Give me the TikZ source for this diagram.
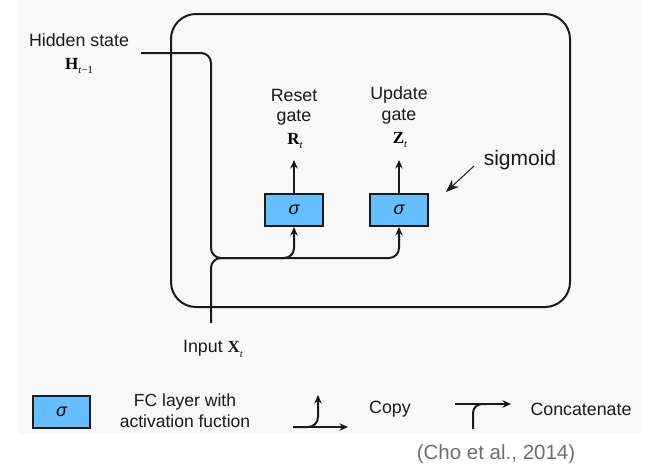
\documentclass[tikz,border=0pt]{standalone}
\usepackage{fontspec}
\setmainfont{Liberation Sans}
\newfontfamily\tms{Liberation Serif}
\usetikzlibrary{arrows.meta}
\definecolor{panel}{HTML}{F8F8F8}
\definecolor{gatefill}{HTML}{66BDFF}
\definecolor{citegray}{HTML}{6E6E6E}
\definecolor{ink}{HTML}{1A1A1A}
% bold serif symbol with a small subscript
\newcommand\symb[2]{{\tms\fontsize{17}{17}\selectfont\bfseries #1}\raisebox{-4.5pt}{\tms\fontsize{10.5}{11}\selectfont #2}}
\tikzset{
  txt/.style={font=\fontsize{17.8}{20.5}\selectfont, text=ink, inner sep=0pt, align=center},
  gatebox/.style={draw=ink, line width=2pt, fill=gatefill, minimum width=58pt,
    minimum height=32pt, inner sep=0pt, font=\fontsize{18}{20}\selectfont\itshape},
  wire/.style={draw=ink, line width=2pt, rounded corners=10pt},
  arr/.style={-{Stealth[length=8.5pt,width=7.5pt]}},
}
\begin{document}
\begin{tikzpicture}[x=1pt,y=-1pt]
\useasboundingbox (0,0) rectangle (650,464);
\fill[panel] (18,0) rectangle (641,434);

% GRU cell outline
\node[draw=ink, line width=2pt, rounded corners=25pt, minimum width=399pt,
  minimum height=293pt, inner sep=0pt] (cell) at (370.5,160.5) {};

% gates
\node[gatebox] (rbox) at (294,210) {σ};
\node[gatebox] (zbox) at (399,210) {σ};

% gate outputs
\node[txt] (rlab) at (294,107) {Reset\\gate};
\node[inner sep=0pt] (rt) at (295,141) {\symb{R}{\itshape t}};
\node[txt] (zlab) at (399,105.5) {Update\\gate};
\node[inner sep=0pt] (zt) at (400,140) {\symb{Z}{\itshape t}};
\coordinate (rtip) at (294,160);
\coordinate (ztip) at (399,160);
\draw[wire, arr] (rbox.north) -- (rtip);
\draw[wire, arr] (zbox.north) -- (ztip);

% hidden state input
\node[txt] (hlab) at (79,40) {Hidden state};
\node[inner sep=0pt] (ht) at (79,66) {\symb{H}{{\itshape t}\kern0.5pt−1}};
\coordinate (hstart) at (141,53);
\coordinate (join) at (211,258);
\draw[wire, arr] (hstart) -| (join) -- (join -| rbox) -- (rbox.south);

% current input
\coordinate (xin) at (211,323);
\node[txt] (xlab) at (213,349) {Input \symb{X}{\itshape t}};
\draw[wire, arr] (xin) -- (join) -- (join -| zbox) -- (zbox.south);

% sigmoid annotation
\node[font=\fontsize{21}{24}\selectfont, text=ink, inner sep=0pt] (sig) at (520,160) {sigmoid};
\coordinate (sigtail) at (474,166);
\coordinate (sigtip) at (446,192);
\draw[ink, line width=1pt, -{Stealth[length=13pt,width=10pt]}] (sigtail) -- (sigtip);

% legend
\node[gatebox, minimum width=57pt] (lbox) at (61.5,412) {σ};
\node[txt, font=\fontsize{17.5}{21}\selectfont] (lfc) at (185,411) {FC layer with\\activation fuction};

\coordinate (cpa) at (293,427);
\coordinate (cpb) at (348,427);
\coordinate (cpk) at (318,427);
\coordinate (cptip) at (318,395);
\draw[wire, arr] (cpa) -- (cpb);
\draw[wire, arr] (cpa) -- (cpk) -- (cptip);
\node[txt] (copy) at (390,409) {Copy};

\coordinate (cca) at (455,404);
\coordinate (ccb) at (511,404);
\coordinate (ccbot) at (473,429);
\coordinate (cck) at (473,404);
\coordinate (ccj) at (486,404);
\draw[wire, arr] (cca) -- (ccb);
\draw[wire, rounded corners=9pt] (ccbot) -- (cck) -- (ccj);
\node[txt] (concat) at (581,409) {Concatenate};

\node[font=\fontsize{20.5}{23}\selectfont, text=citegray, inner sep=0pt] (cite) at (496,454) {(Cho et al., 2014)};
\end{tikzpicture}
\end{document}
